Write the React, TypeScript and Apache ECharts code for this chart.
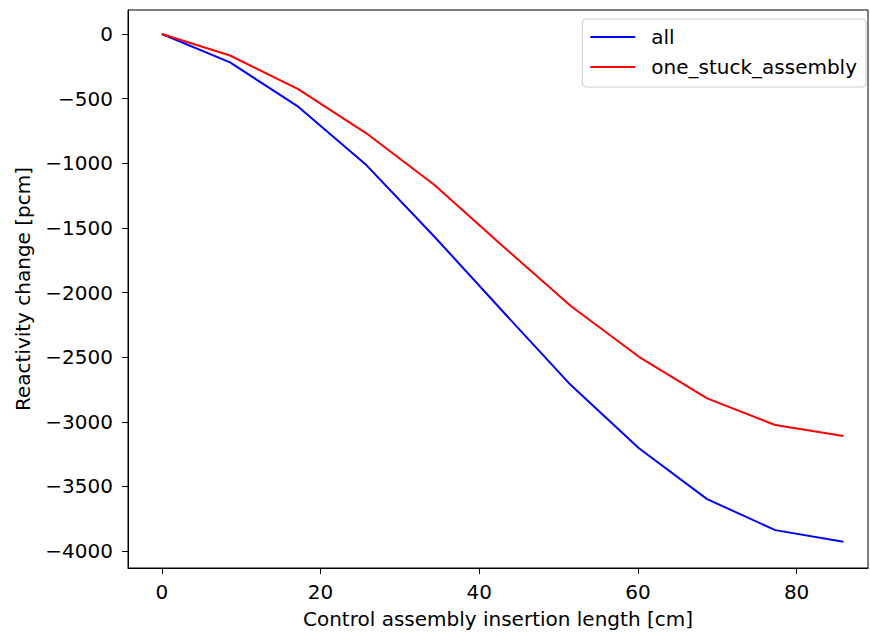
import React, { useEffect, useRef } from "react";
import * as echarts from "echarts";

const insertionLength = [0, 8.59, 17.18, 25.77, 34.36, 42.95, 51.54, 60.13, 68.72, 77.31, 85.9];
const allValues = [0, -219, -562, -1014, -1568, -2145, -2716, -3205, -3598, -3838, -3928];
const stuckValues = [0, -166, -426, -768, -1168, -1640, -2104, -2497, -2819, -3025, -3110];
const xTicks = [0, 20, 40, 60, 80];
const yTicks = [0, -500, -1000, -1500, -2000, -2500, -3000, -3500, -4000];

const FONT = "DejaVu Sans";
const FS = 20;

export default function App() {
  const ref = useRef<HTMLDivElement>(null);
  useEffect(() => {
    if (!ref.current) return;
    const chart = echarts.init(ref.current, null, { renderer: "svg" });
    const fmt = (v: number) => String(v).replace("-", "\u2212");
    chart.setOption({
      animation: false,
      backgroundColor: "#fff",
      grid: {
        left: 128,
        right: 2,
        top: 10,
        bottom: 66,
        show: true,
        borderColor: "#000",
        borderWidth: 1,
        backgroundColor: "transparent",
      },
      legend: {
        orient: "vertical",
        right: 4,
        top: 19,
        padding: [8, 9, 10, 8],
        icon: "rect",
        itemWidth: 45,
        itemHeight: 2,
        itemGap: 10,
        borderColor: "#cccccc",
        borderWidth: 1,
        borderRadius: 4,
        textStyle: { fontFamily: FONT, fontSize: FS, color: "#000", padding: [0, 0, 0, 11], lineHeight: 20 },
        data: ["all", "one_stuck_assembly"],
      },
      xAxis: {
        type: "value",
        min: -4.27,
        max: 89.0,
        name: "Control assembly insertion length [cm]",
        nameLocation: "middle",
        nameGap: 41,
        nameTextStyle: { fontFamily: FONT, fontSize: FS, color: "#000" },
        splitLine: { show: false },
        axisLine: { show: true, onZero: false, lineStyle: { color: "#000" } },
        axisTick: { show: true, length: 6, lineStyle: { color: "#000" }, customValues: xTicks },
        axisLabel: {
          fontFamily: FONT,
          fontSize: FS,
          color: "#000",
          margin: 14,
          customValues: xTicks,
          formatter: fmt,
        },
      },
      yAxis: {
        type: "value",
        min: -4131,
        max: 186,
        name: "Reactivity change [pcm]",
        nameLocation: "middle",
        nameGap: 95,
        nameRotate: 90,
        nameTextStyle: { fontFamily: FONT, fontSize: FS, color: "#000" },
        splitLine: { show: false },
        axisLine: { show: true, onZero: false, lineStyle: { color: "#000" } },
        axisTick: { show: true, length: 6, lineStyle: { color: "#000" }, customValues: yTicks },
        axisLabel: {
          fontFamily: FONT,
          fontSize: FS,
          color: "#000",
          margin: 15,
          customValues: yTicks,
          formatter: fmt,
        },
      },
      series: [
        {
          name: "all",
          type: "line",
          symbol: "none",
          data: insertionLength.map((x, i) => [x, allValues[i]]),
          lineStyle: { color: "#0000ff", width: 2 },
          itemStyle: { color: "#0000ff" },
        },
        {
          name: "one_stuck_assembly",
          type: "line",
          symbol: "none",
          data: insertionLength.map((x, i) => [x, stuckValues[i]]),
          lineStyle: { color: "#ff0000", width: 2 },
          itemStyle: { color: "#ff0000" },
        },
      ],
    });
    return () => chart.dispose();
  }, []);
  return (
    <div
      ref={ref}
      style={{ position: "fixed", left: 0, top: 0, width: 870, height: 634 }}
    />
  );
}
